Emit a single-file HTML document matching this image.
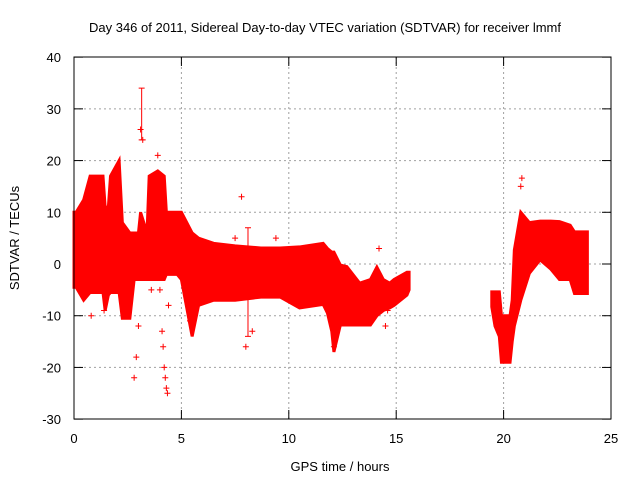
<!DOCTYPE html>
<html><head><meta charset="utf-8"><style>
body{margin:0;background:#fff}
svg text{font-family:"Liberation Sans",sans-serif;font-size:13px;fill:#000}
</style></head><body>
<svg id="c" width="640" height="480">
<rect width="640" height="480" fill="#fff"/>
<text x="325" y="32" text-anchor="middle">Day 346 of 2011, Sidereal Day-to-day VTEC variation (SDTVAR) for receiver lmmf</text>
<text x="340" y="471" text-anchor="middle">GPS time / hours</text>
<text transform="translate(19,238) rotate(-90)" text-anchor="middle">SDTVAR / TECUs</text>
<g id="grid"></g><g id="data"></g>
<rect x="74" y="57" width="537" height="362" fill="none" stroke="#000"/>
</svg>
<script>
const xTicks=[0,5,10,15,20,25];
const yTicks=[-30,-20,-10,0,10,20,30,40];
const seg1Hours=[0,0.1,0.45,0.75,1.35,1.45,1.6,1.7,2.1,2.25,2.6,2.8,3.0,3.1,3.4,3.5,3.9,4.2,4.3,4.8,5.0,5.5,5.8,6.5,7.5,8.7,9.6,10.5,11.6,11.8,12.0,12.1,12.4,12.7,13.3,13.8,14.1,14.4,14.7,14.9,15.5,15.6];
const seg1Upper=[10,10,12.4,17,17,11,11,17,20,8,6,6,6,10,6,17,18,17,10,10,10,6,5,4,3.5,3.1,3.1,3.3,4,3,2.3,2.3,-0.2,-0.5,-3.7,-3,-0.6,-3,-3.7,-3,-1.6,-1.6];
const seg1Lower=[-4.5,-4.5,-7,-5.5,-5.5,-9,-6,-5.5,-5.5,-10.5,-10.5,-3,-3,-3,-3,-3,-3,-3,-2,-2,-3,-14,-8,-7,-7,-6.4,-6.4,-8.5,-7.8,-9.5,-13,-17,-11.8,-11.8,-11.8,-11.8,-10,-9,-8.5,-8,-6,-5];
const seg2Hours=[19.45,19.6,19.8,19.9,20.3,20.4,20.5,20.8,21.2,21.7,22.2,22.6,23.1,23.3,23.9];
const seg2Upper=[-5.4,-5.4,-5.4,-10,-10,-7,2.7,10,8,8.3,8.3,8.2,7.5,6.2,6.2];
const seg2Lower=[-8.3,-12,-14,-19,-19,-15,-12,-7,-1.8,0.8,-1,-3,-3,-5.7,-5.7];
const errHours=[3.15,8.1];
const errHigh=[34,7];
const errLow=[24,-14];
const outHours=[2.8,2.9,3.0,3.1,3.2,3.9,4.0,4.1,4.15,4.2,4.25,4.3,4.35,4.4,7.5,7.8,8.0,8.3,9.4,12.1,14.2,14.5,14.6,20.8,20.85,3.8,1.4,0.8,3.6,2.5,5.4];
const outValues=[-22,-18,-12,26,24,21,-5,-13,-16,-20,-22,-24,-25,-8,5,13,-16,-13,5,-16,3,-12,-9,15,16.6,14,-9,-10,-5,-10,-11];
const xs=h=>74+h*537/25, ys=v=>264-v*362/70;
const NS="http://www.w3.org/2000/svg";
const g=document.getElementById('grid'),d=document.getElementById('data');
function mk(p,t,a){const e=document.createElementNS(NS,t);for(const k in a)e.setAttribute(k,a[k]);p.appendChild(e);return e;}
xTicks.forEach(t=>{const x=xs(t);
 if(t>0&&t<25){const l=mk(g,'line',{x1:x,x2:x,y1:57,y2:419,stroke:'#a0a0a0','stroke-dasharray':'2,3'});
 
 }
 mk(g,'line',{x1:x,x2:x,y1:419,y2:410,stroke:'#000'});mk(g,'line',{x1:x,x2:x,y1:57,y2:66,stroke:'#000'});
 const tx=mk(g,'text',{x:x,y:443,'text-anchor':'middle'});tx.textContent=t;
 
 });
yTicks.forEach(t=>{const y=ys(t);
 if(t>-30&&t<40){const l=mk(g,'line',{x1:74,x2:611,y1:y,y2:y,stroke:'#a0a0a0','stroke-dasharray':'2,3'});
 
 }
 mk(g,'line',{x1:74,x2:83,y1:y,y2:y,stroke:'#000'});mk(g,'line',{x1:611,x2:602,y1:y,y2:y,stroke:'#000'});
 const tx=mk(g,'text',{x:61,y:y+5,'text-anchor':'end'});tx.textContent=t;
 
 });
function band(H,U,L,name){
 let pts=H.map((h,i)=>xs(h)+','+ys(U[i]));
 for(let i=H.length-1;i>=0;i--)pts.push(xs(H[i])+','+ys(L[i]));
 const p=mk(d,'polygon',{points:pts.join(' '),fill:'#ff0000',stroke:'#ff0000','stroke-width':3,'stroke-linejoin':'miter'});
 
 }
band(seg1Hours,seg1Upper,seg1Lower,'sdtvar-band-early');
band(seg2Hours,seg2Upper,seg2Lower,'sdtvar-band-late');
errHours.forEach((h,i)=>{const x=xs(h),y1=ys(errHigh[i]),y2=ys(errLow[i]);
 const p=mk(d,'path',{d:`M${x},${y1}V${y2}M${x-3},${y1}h6M${x-3},${y2}h6`,stroke:'#ff0000','stroke-width':1});
 
 });
outHours.forEach((h,i)=>{const x=xs(h),y=ys(outValues[i]);
 const p=mk(d,'path',{d:`M${x-3},${y}h6M${x},${y-3}v6`,stroke:'#ff0000','stroke-width':1});
 
 });
</script>
</body></html>
